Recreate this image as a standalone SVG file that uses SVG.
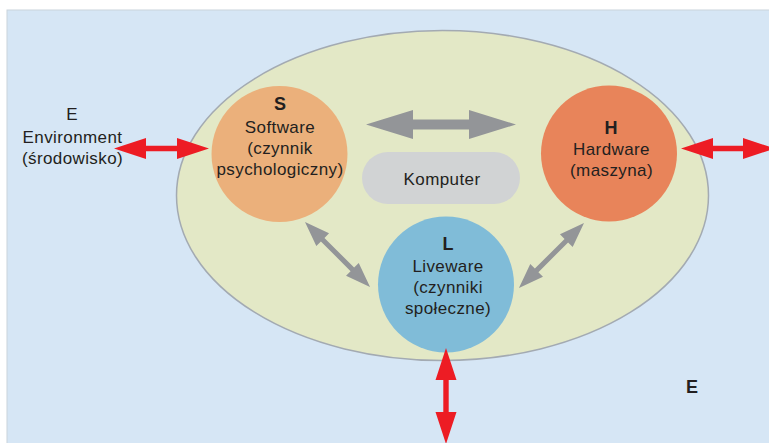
<svg xmlns="http://www.w3.org/2000/svg" width="769" height="443" viewBox="0 0 769 443">
<style>
text{font-family:"Liberation Sans",Arial,sans-serif;fill:#231f20;text-anchor:middle}
.t{font-size:17px;letter-spacing:0.4px}
.b{font-size:18px;font-weight:bold}
.g{fill:#939598}
.r{fill:#ed1c24}
</style>
<rect x="0" y="0" width="769" height="443" fill="#ffffff"/>
<rect x="7" y="10" width="770" height="440" fill="#d6e6f5" stroke="#c9d3dc" stroke-width="1"/>
<g id="system">
<ellipse cx="442.5" cy="195.5" rx="266" ry="165" fill="#e3e8c6" stroke="#a3aab2" stroke-width="1.5"/>
</g>
<g id="environment-left">
<text class="t" x="72" y="120">E</text>
<text class="t" x="72.5" y="142.5">Environment</text>
<text class="t" x="72.5" y="163.5">(środowisko)</text>
</g>
<g id="environment-right">
<text class="b" x="692" y="393">E</text>
</g>
<g id="komputer">
<rect x="362" y="152" width="158" height="52" rx="26" fill="#d1d3d4"/>
<text class="t" x="442" y="184.5">Komputer</text>
</g>
<g id="software">
<circle cx="279.5" cy="154" r="68" fill="#ebb07b"/>
<text class="b" x="280" y="110">S</text>
<text class="t" x="280" y="132.5">Software</text>
<text class="t" x="280" y="153.5">(czynnik</text>
<text class="t" x="280" y="174.5">psychologiczny)</text>
</g>
<g id="hardware">
<circle cx="609" cy="153.5" r="68" fill="#e8845a"/>
<text class="b" x="611" y="133.5">H</text>
<text class="t" x="611.5" y="155">Hardware</text>
<text class="t" x="611.5" y="175.5">(maszyna)</text>
</g>
<g id="liveware">
<circle cx="446" cy="284.5" r="68" fill="#80bcd8"/>
<text class="b" x="448" y="250">L</text>
<text class="t" x="448" y="271.5">Liveware</text>
<text class="t" x="448" y="292.5">(czynniki</text>
<text class="t" x="448" y="313.5">społeczne)</text>
</g>
<g id="connectors">
<polygon class="g" points="366,124.5 413,110 413,119.5 469,119.5 469,110 516,124.5 469,139 469,129.5 413,129.5 413,139"/>
<polygon class="g" transform="translate(305,222) rotate(45)" points="0,0 25,-9 25,-2.5 67,-2.5 67,-9 92,0 67,9 67,2.5 25,2.5 25,9"/>
<polygon class="g" transform="translate(584,223) rotate(135)" points="0,0 25,-9 25,-2.5 67,-2.5 67,-9 92,0 67,9 67,2.5 25,2.5 25,9"/>
<polygon class="r" points="114,148.5 146,138 146,145.8 177,145.8 177,138 209,148.5 177,159 177,151.2 146,151.2 146,159"/>
<polygon class="r" points="681,148.5 713,138 713,145.8 743,145.8 743,138 775,148.5 743,159 743,151.2 713,151.2 713,159"/>
<polygon class="r" points="446,348 456.5,380 448.7,380 448.7,412 456.5,412 446,444 435.5,412 443.3,412 443.3,380 435.5,380"/>
</g>
</svg>
